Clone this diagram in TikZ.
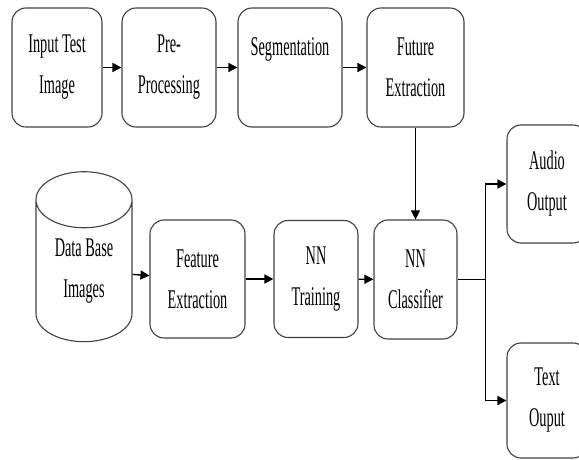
\documentclass[tikz,border=0pt]{standalone}
\usepackage{fontspec}
\setmainfont[FakeStretch=0.53]{Liberation Serif}
\usetikzlibrary{shapes.geometric,arrows.meta}
\tikzset{box/.style={rectangle,rounded corners=14pt,draw=black!75,line width=1.1pt,minimum width=94pt,minimum height=119pt,inner sep=0pt,align=center,font=\fontsize{27}{41}\selectfont},
         store/.style={cylinder,shape border rotate=90,shape aspect=0.96,draw=black!75,line width=1.1pt,minimum width=96pt,minimum height=170pt,inner sep=0pt,align=center,font=\fontsize{27}{41}\selectfont},
         flow/.style={-{Triangle[length=9pt,width=9pt]},line width=1.4pt},
}

\begin{document}
\begin{tikzpicture}[x=1pt,y=-1pt]
\useasboundingbox (0,0) rectangle (579,460);
\clip (0,0) rectangle (579,460);
% top row
\node[box,minimum width=90pt] (in) at (57,67.5) {Input Test\\Image};
\node[box] (pre) at (169,67.5) {Pre-\\Processing};
\node[box,minimum width=104pt] (seg) at (290,67.5) {Segmentation\\\mbox{}};
\node[box,minimum width=97pt] (fut) at (415.5,67.5) {Future\\Extraction};
% bottom row
\node[store] (db) at (84,271) {Data Base\\Images};
\node[box,minimum width=95pt,minimum height=118pt] (fe) at (197.5,279) {Feature\\Extraction};
\node[box,minimum width=84pt,minimum height=117pt] (nt) at (316,279) {NN\\Training};
\node[box,minimum width=83pt] (cls) at (415.5,279.5) {NN\\Classifier};
% outputs
\node[box,minimum width=80pt,minimum height=118pt] (audio) at (547,184) {Audio\\Output};
\node[box,minimum width=80pt,minimum height=115pt] (txt) at (547,400.5) {Text\\Ouput};

\draw[flow] (in) -- (pre);
\draw[flow] (pre) -- (seg);
\draw[flow] (seg) -- (fut);
\draw[flow,line width=1pt] (fut) -- (cls);
\draw[flow] (db) -- (fe);
\draw[flow] (fe) -- (nt);
\draw[flow] (nt) -- (cls);
\coordinate (split) at ([xshift=28pt]cls.east);
\draw[line width=1.4pt] (cls) -- (split);
\draw[flow] (split) |- (audio);
\draw[flow] (split) |- (txt);
\end{tikzpicture}
\end{document}
